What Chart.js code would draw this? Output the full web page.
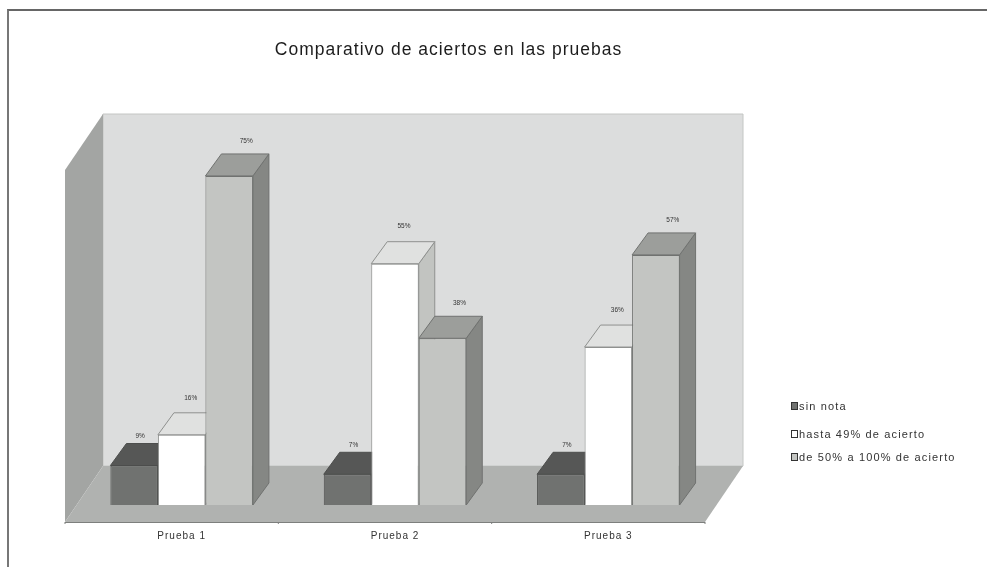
<!DOCTYPE html>
<html>
<head>
<meta charset="utf-8">
<script src="https://cdn.jsdelivr.net/npm/chart.js@4"></script>
<style>
  html, body { margin: 0; padding: 0; background: #fff; overflow: hidden; }
  #wrap { position: relative; width: 987px; height: 567px; filter: blur(0.45px); }
  #frame { position: absolute; left: 7px; top: 9px; right: -4px; bottom: -4px; border-left: 2px solid #777; border-top: 2px solid #666; }
  .legendRow { position: absolute; left: 791px; font: 11px "Liberation Sans", Arial, sans-serif; letter-spacing: 1.15px; color: #333; white-space: nowrap; line-height: 14px; }
  .legendRow i { position: absolute; left: 0; top: 3px; width: 5px; height: 6px; border: 1px solid #333; }
  .legendRow span { margin-left: 8px; }
</style>
</head>
<body>
<div id="wrap">
  <canvas id="chart" width="987" height="567"></canvas>
  <div id="frame"></div>
  <div id="legend"></div>
</div>
<script>
const categories = ['Prueba 1', 'Prueba 2', 'Prueba 3'];
const sinNota = [9, 7, 7];
const hasta49 = [16, 55, 36];
const de50a100 = [75, 38, 57];
const seriesNames = ['sin nota', 'hasta 49% de acierto', 'de 50% a 100% de acierto'];

// front, top and side colours of each serie
const faces = [
  { front: '#707270', top: '#565756', side: '#484948', line: '#4d4e4d', lx: 6, ly: 7 },
  { front: '#ffffff', top: '#e0e1e0', side: '#c2c4c1', line: '#8f918f', lx: 9, ly: 15 },
  { front: '#c3c5c2', top: '#9c9e9b', side: '#858784', line: '#707270', lx: 17, ly: 13 }
];
const depthX = 16;
const depthY = 22;

function poly(ctx, pts, fill, stroke) {
  ctx.beginPath();
  ctx.moveTo(pts[0][0], pts[0][1]);
  for (let i = 1; i < pts.length; i++) ctx.lineTo(pts[i][0], pts[i][1]);
  ctx.closePath();
  ctx.fillStyle = fill;
  ctx.fill();
  if (stroke) {
    ctx.strokeStyle = stroke;
    ctx.lineWidth = 1;
    ctx.stroke();
  }
}

const box3d = {
  id: 'box3d',
  afterLayout(chart) {
    // title is centered on the whole picture area, not on the plot
    chart.titleBlock.left = 0;
    chart.titleBlock.right = 897;
  },
  beforeDraw(chart) {
    chart.ctx.letterSpacing = '1px';
  },
  beforeDatasetsDraw(chart) {
    const ctx = chart.ctx;
    const a = chart.chartArea;
    const l = a.left, r = a.right, t = a.top, b = a.bottom;
    // back wall, left wall and floor
    poly(ctx, [[l + 28, t - 40], [r + 28, t - 40], [r + 28, b - 39], [l + 28, b - 39]], '#dcdddd', '#c4c6c4');
    poly(ctx, [[l - 10, t + 16], [l + 28, t - 40], [l + 28, b - 39], [l - 10, b + 17]], '#a3a5a3');
    poly(ctx, [[l - 10, b + 17], [r - 10, b + 17], [r + 28, b - 39], [l + 28, b - 39]], '#b0b2b0');
    ctx.strokeStyle = '#7d7f7d';
    ctx.lineWidth = 1;
    ctx.beginPath();
    ctx.moveTo(l - 10, b + 17.5);
    ctx.lineTo(r - 10, b + 17.5);
    // little ticks between the groups
    const step = (r - l) / categories.length;
    for (let k = 0; k <= categories.length; k++) {
      ctx.moveTo(l - 10 + k * step, b + 17);
      ctx.lineTo(l - 10 + k * step, b + 19);
    }
    ctx.stroke();
    // top and side of the bars go under the bar fronts
    chart.data.datasets.forEach((ds, i) => {
      const f = faces[i];
      chart.getDatasetMeta(i).data.forEach((bar) => {
        const x0 = bar.x - bar.width / 2, x1 = bar.x + bar.width / 2;
        poly(ctx, [[x1, bar.y], [x1 + depthX, bar.y - depthY], [x1 + depthX, bar.base - depthY], [x1, bar.base]], f.side, f.line);
        poly(ctx, [[x0, bar.y], [x1, bar.y], [x1 + depthX, bar.y - depthY], [x0 + depthX, bar.y - depthY]], f.top, f.line);
      });
    });
  },
  afterDatasetsDraw(chart) {
    const ctx = chart.ctx;
    ctx.save();
    ctx.letterSpacing = '0px';
    ctx.font = '6.5px "Liberation Sans", Arial, sans-serif';
    ctx.fillStyle = '#333';
    ctx.textAlign = 'center';
    ctx.textBaseline = 'middle';
    chart.data.datasets.forEach((ds, i) => {
      chart.getDatasetMeta(i).data.forEach((bar, j) => {
        ctx.fillText(ds.data[j] + '%', bar.x + faces[i].lx, bar.y - depthY - faces[i].ly);
      });
    });
    ctx.restore();
  }
};

const allValues = [sinNota, hasta49, de50a100];

new Chart(document.getElementById('chart'), {
  type: 'bar',
  data: {
    labels: categories,
    datasets: allValues.map((vals, i) => ({
      label: seriesNames[i],
      data: vals,
      backgroundColor: faces[i].front,
      borderColor: faces[i].line,
      borderWidth: 1,
      barPercentage: 1,
      categoryPercentage: 0.668
    }))
  },
  options: {
    responsive: false,
    animation: false,
    layout: { padding: { left: 75, right: 272, top: 0, bottom: 0 } },
    plugins: {
      legend: { display: false },
      tooltip: { enabled: false },
      title: {
        display: true,
        text: 'Comparativo de aciertos en las pruebas',
        color: '#1c1c1c',
        font: { family: '"Liberation Sans", Arial, sans-serif', size: 17.5, weight: 'normal', lineHeight: 1.2 },
        padding: { top: 40, bottom: 93 }
      }
    },
    scales: {
      x: {
        grid: { display: false },
        border: { display: false },
        ticks: { color: '#333', padding: 17, font: { family: '"Liberation Sans", Arial, sans-serif', size: 10 } },
        afterFit(scale) { scale.height = 62; }
      },
      y: { display: false, min: 0, max: 80 }
    }
  },
  plugins: [box3d]
});

// legend on the right, rows are not evenly spaced in the original
const legendTops = [399, 427, 450];
const legendBox = document.getElementById('legend');
seriesNames.forEach((name, i) => {
  const row = document.createElement('div');
  row.className = 'legendRow';
  row.style.top = legendTops[i] + 'px';
  row.innerHTML = '<i style="background:' + faces[i].front + '"></i><span>' + name + '</span>';
  legendBox.appendChild(row);
});
</script>
</body>
</html>
